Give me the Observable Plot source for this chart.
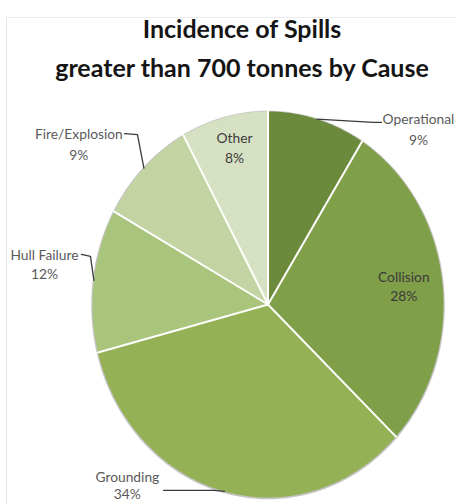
<!DOCTYPE html>
<html>
<head>
<meta charset="utf-8">
<script src="https://cdn.jsdelivr.net/npm/d3@7"></script>
<script src="https://cdn.jsdelivr.net/npm/@observablehq/plot@0.6"></script>
<style>
  html, body { margin: 0; padding: 0; background: #fff; overflow: hidden; }
  #wrap { position: relative; width: 456px; height: 504px; }
  #frame { position: absolute; left: 6px; top: 17px; right: 0; bottom: 0;
           border-left: 1.5px solid #e4e4e4; border-top: 1.5px solid #ececec; }
  #title { position: absolute; left: 28px; width: 428px; top: 9px; text-align: center;
           font-family: Lato, sans-serif; font-weight: 700; font-size: 25px; line-height: 39px;
           color: #151515; letter-spacing: 0px; }
  #chart { position: absolute; left: 0; top: 0; }
</style>
</head>
<body>
<div id="wrap">
  <div id="frame"></div>
  <div id="chart"></div>
  <div id="title">Incidence of Spills<br>greater than 700 tonnes by Cause</div>
</div>
<script>
// ---- data ----
const categories = ["Operational", "Collision", "Grounding", "Hull Failure", "Fire/Explosion", "Other"];
const values = [9, 28, 34, 12, 9, 8];
const percentLabels = ["9%", "28%", "34%", "12%", "9%", "8%"];
const colors = ["#6b8a3b", "#809f49", "#94b155", "#a9c47b", "#c3d4a2", "#d6e1c3"];

// ---- layout (pixel tweaks for labels / leader lines) ----
const X_RANGE = [92, 443];
const Y_RANGE = [497, 111];
const RX = (X_RANGE[1] - X_RANGE[0]) / 2;
const RY = (Y_RANGE[0] - Y_RANGE[1]) / 2;
const labelLayout = {
  "Operational":    {kind: "out", tx: 101.5, ty: 9,   ex: 56.5, ey: 3.3,  hx: 8,   hy: 0, lh: 1.5},
  "Collision":      {kind: "in",  r: 0.78, tx: 0,   ty: 0, lh: 1.4},
  "Grounding":      {kind: "out", tx: -97,   ty: -6,  ex: -9.8, ey: -1,   hx: -51, hy: 0, lh: 1.2},
  "Hull Failure":   {kind: "out", tx: -49.4, ty: -17, ex: -3.4, ey: -24,  hx: -9,  hy: -2, lh: 1.4},
  "Fire/Explosion": {kind: "out", tx: -65,   ty: -25, ex: -6.4, ey: -33.5, hx: -13, hy: -1, lh: 1.5},
  "Other":          {kind: "in",  r: 0.8,  tx: 1.5, ty: -8, lh: 1.4}
};
const px = (dx) => dx / RX;
const py = (dy) => -dy / RY;

// ---- geometry from d3.pie ----
const arcs = d3.pie().sort(null).value(d => d)(values);
const slices = [];
arcs.forEach((a, i) => {
  const cat = categories[i];
  slices.push({cat, x: 0, y: 0});
  const n = Math.max(2, Math.ceil((a.endAngle - a.startAngle) / 0.01));
  for (let k = 0; k <= n; k++) {
    const t = a.startAngle + (a.endAngle - a.startAngle) * k / n;
    slices.push({cat, x: Math.sin(t), y: Math.cos(t)});
  }
  slices.push({cat, x: 0, y: 0});
});
const separators = [];
arcs.forEach((a, i) => {
  separators.push({id: i, x: 0, y: 0});
  separators.push({id: i, x: Math.sin(a.startAngle), y: Math.cos(a.startAngle)});
});
const outline = d3.range(0, 361, 2).map(d => {
  const t = d * Math.PI / 180;
  return {x: Math.sin(t), y: Math.cos(t)};
});

const leaders = [];
const textMarks = [];
arcs.forEach((a, i) => {
  const cat = categories[i];
  const L = labelLayout[cat];
  const m = (a.startAngle + a.endAngle) / 2;
  const text = cat + "\n" + percentLabels[i];
  let pos;
  if (L.kind === "out") {
    const ex = Math.sin(m), ey = Math.cos(m);
    const bx = ex + px(L.ex), by = ey + py(L.ey);
    const hx = bx + px(L.hx), hy = by + py(L.hy);
    leaders.push({id: cat, x: ex, y: ey}, {id: cat, x: bx, y: by}, {id: cat, x: hx, y: hy});
    pos = {text, x: ex + px(L.tx), y: ey + py(L.ty)};
  } else {
    pos = {text, x: L.r * Math.sin(m) + px(L.tx), y: L.r * Math.cos(m) + py(L.ty)};
  }
  textMarks.push(Plot.text([pos], {x: "x", y: "y", text: "text",
    fill: L.kind === "out" ? "#5a5a5a" : "#3b3b3b", fontSize: 13.8,
    fontFamily: "Lato, sans-serif", lineHeight: L.lh, lineAnchor: "middle", textAnchor: "middle"}));
});

const chart = Plot.plot({
  width: 456,
  height: 504,
  margin: 0,
  style: {background: "transparent", overflow: "visible"},
  x: {domain: [-1, 1], range: X_RANGE, axis: null},
  y: {domain: [-1, 1], range: Y_RANGE, axis: null},
  color: {domain: categories, range: colors},
  marks: [
    Plot.line(outline, {x: "x", y: "y", stroke: "#c4c4c4", strokeWidth: 2.5, dy: 0.5}),
    Plot.line(slices, {x: "x", y: "y", z: "cat", fill: "cat", stroke: null, curve: "linear"}),
    Plot.line(separators, {x: "x", y: "y", z: "id", stroke: "white", strokeWidth: 2}),
    Plot.line(leaders, {x: "x", y: "y", z: "id", stroke: "#3a3a3a", strokeWidth: 1.3}),
    ...textMarks
  ]
});
document.getElementById("chart").appendChild(chart);
</script>
</body>
</html>
